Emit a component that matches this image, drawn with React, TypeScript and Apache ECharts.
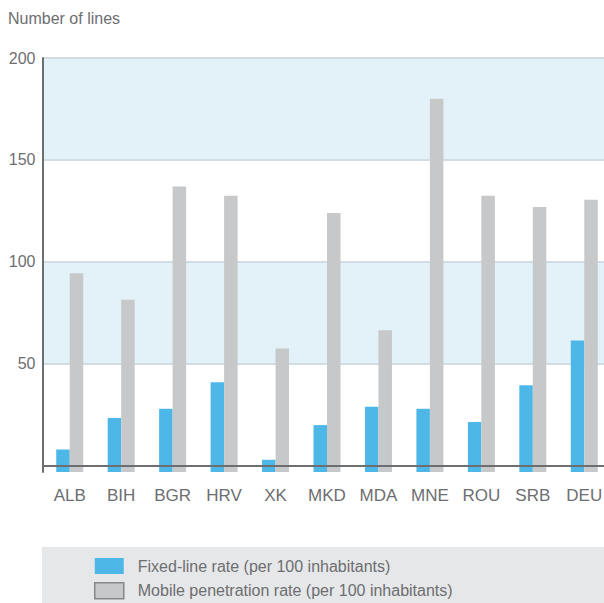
import React, { useEffect, useRef } from "react";
import * as echarts from "echarts";

const categories = ["ALB", "BIH", "BGR", "HRV", "XK", "MKD", "MDA", "MNE", "ROU", "SRB", "DEU"];
const fixedLineRate = [8, 23.5, 28, 41, 3, 20, 29, 28, 21.5, 39.5, 61.5];
const mobileRate = [94.5, 81.5, 137, 132.5, 57.5, 124, 66.5, 180, 132.5, 127, 130.5];
const yTickLabels = [50, 100, 150, 200];
const shadedBands = [
  [50, 100],
  [150, 200],
];
const AXIS_MIN = -3;
const AXIS_MAX = 200;
const seriesNames = ["Fixed-line rate (per 100 inhabitants)", "Mobile penetration rate (per 100 inhabitants)"];

const FONT = '"Liberation Sans", Arial, Helvetica, sans-serif';
const TEXT = "#6d6e71";
const BLUE = "#4db8e8";
const GREY = "#c7c8ca";

export default function App() {
  const ref = useRef<HTMLDivElement>(null);
  useEffect(() => {
    document.body.style.margin = "0";
    if (!ref.current) return;
    const chart = echarts.init(ref.current, null, { renderer: "svg" });
    const base = categories.map(() => AXIS_MIN);
    chart.setOption({
      animation: false,
      textStyle: { fontFamily: FONT },
      title: {
        text: "Number of lines",
        left: 8,
        top: 10,
        padding: 0,
        textStyle: { fontFamily: FONT, fontSize: 16, fontWeight: "normal", color: TEXT },
      },
      graphic: [
        {
          type: "rect",
          left: 42,
          top: 547,
          shape: { width: 562, height: 56 },
          style: { fill: "#e6e7e8" },
          z: -1,
          silent: true,
        },
      ],
      legend: {
        orient: "vertical",
        left: 94,
        top: 558,
        padding: 0,
        itemWidth: 29,
        itemHeight: 16,
        itemGap: 8,
        selectedMode: false,
        textStyle: { fontFamily: FONT, fontSize: 16, color: TEXT, padding: [0, 0, 0, 9] },
        data: [
          { name: seriesNames[0], icon: "rect", itemStyle: { color: BLUE } },
          {
            name: seriesNames[1],
            icon: "rect",
            itemStyle: { color: GREY, borderColor: "#86878a", borderWidth: 1.5 },
          },
        ],
      },
      grid: {
        left: 44,
        top: 58,
        width: 566,
        height: 414,
        containLabel: false,
        outerBoundsMode: "none",
      },
      xAxis: {
        type: "category",
        data: categories,
        z: 5,
        axisLine: { show: true, lineStyle: { color: TEXT, width: 2 } },
        axisTick: { show: false },
        axisLabel: { interval: 0, fontFamily: FONT, fontSize: 17, color: TEXT, margin: 15 },
        splitLine: { show: false },
      },
      yAxis: {
        type: "value",
        min: AXIS_MIN,
        max: AXIS_MAX,
        offset: 1.5,
        z: 5,
        axisLine: { show: true, lineStyle: { color: TEXT, width: 2 } },
        axisTick: { show: false },
        splitLine: { show: false },
        axisLabel: {
          customValues: yTickLabels,
          fontFamily: FONT,
          fontSize: 16,
          color: TEXT,
          margin: 7,
        },
      },
      series: [
        {
          name: seriesNames[0],
          type: "bar",
          stack: "fixed",
          data: fixedLineRate,
          barWidth: 13.5,
          barGap: "0%",
          itemStyle: { color: BLUE },
          markArea: {
            silent: true,
            z: 1,
            itemStyle: { color: "#e3f1f9", borderWidth: 0 },
            data: shadedBands.map(([a, b]) => [{ yAxis: a }, { yAxis: b }]),
          },
          markLine: {
            silent: true,
            z: 1,
            symbol: "none",
            label: { show: false },
            lineStyle: { color: "#d2dce3", width: 2, type: "solid" },
            data: yTickLabels.map((v) => ({ yAxis: v })),
          },
        },
        {
          name: "fixedBase",
          type: "bar",
          stack: "fixed",
          data: base,
          barWidth: 13.5,
          barGap: "0%",
          itemStyle: { color: BLUE },
        },
        {
          name: seriesNames[1],
          type: "bar",
          stack: "mobile",
          data: mobileRate,
          barWidth: 13.5,
          barGap: "0%",
          itemStyle: { color: GREY },
        },
        {
          name: "mobileBase",
          type: "bar",
          stack: "mobile",
          data: base,
          barWidth: 13.5,
          barGap: "0%",
          itemStyle: { color: GREY },
        },
      ],
    });
    return () => chart.dispose();
  }, []);
  return <div ref={ref} style={{ width: 604, height: 603 }} />;
}
